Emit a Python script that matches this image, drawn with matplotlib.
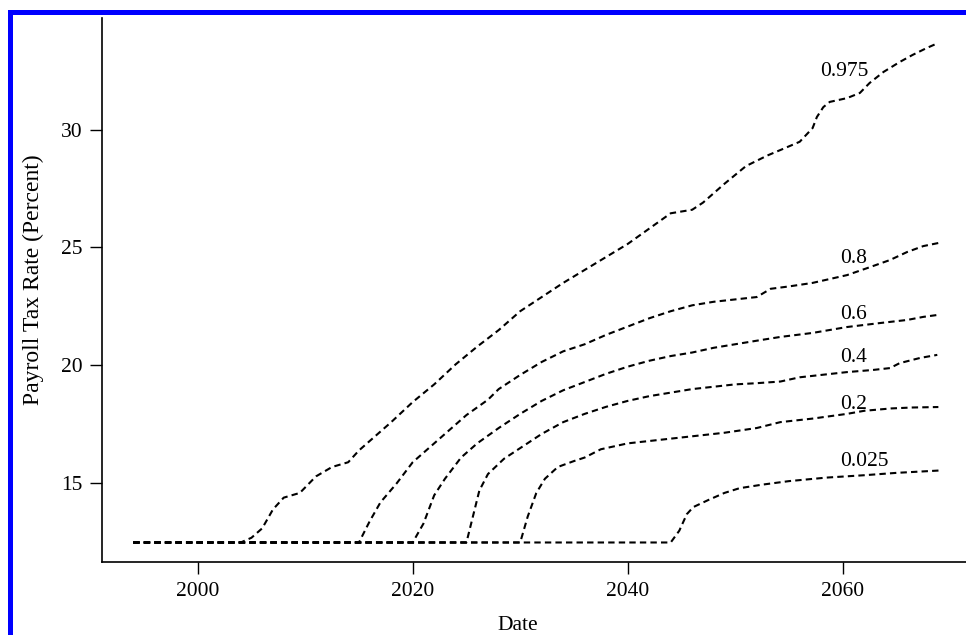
import matplotlib
matplotlib.use("Agg")
import matplotlib.pyplot as plt
from matplotlib.patches import Rectangle

# ---------------- data ----------------
q975_years = [1994, 2004, 2005, 2006, 2007, 2008, 2009.5, 2011, 2012.5, 2014, 2015, 2016.5,
              2018, 2020, 2022, 2024, 2026, 2028, 2030, 2032, 2034, 2036, 2038, 2040, 2042,
              2044, 2046, 2047, 2049, 2051, 2053, 2054.2, 2056, 2057.2, 2057.6, 2058.2,
              2058.8, 2060.4, 2061.6, 2062.5, 2063.8, 2065.3, 2066.5, 2067.8, 2068.9]
q975_vals = [12.5, 12.5, 12.7, 13.1, 13.9, 14.4, 14.6, 15.3, 15.7, 15.9, 16.4, 17.0,
             17.6, 18.45, 19.2, 20.05, 20.8, 21.5, 22.3, 22.9, 23.5, 24.05, 24.6, 25.15, 25.8,
             26.45, 26.6, 26.9, 27.7, 28.45, 28.9, 29.13, 29.48, 30.06, 30.53, 30.95,
             31.17, 31.33, 31.55, 31.97, 32.44, 32.86, 33.16, 33.45, 33.67]

q80_years = [1994, 2015, 2016, 2017, 2018.5, 2020, 2021, 2023, 2025, 2027, 2028, 2030, 2032,
             2034, 2036, 2038, 2040, 2042, 2044, 2046, 2048, 2050, 2052, 2053.3, 2055,
             2057.2, 2060.4, 2062.3, 2064.4, 2066, 2067.5, 2068.9]
q80_vals = [12.5, 12.5, 13.4, 14.2, 15.0, 15.9, 16.3, 17.1, 17.9, 18.55, 19.0, 19.6, 20.15,
            20.6, 20.9, 21.3, 21.65, 22.0, 22.3, 22.55, 22.7, 22.8, 22.9, 23.25, 23.35,
            23.5, 23.83, 24.13, 24.47, 24.81, 25.06, 25.19]

q60_years = [1994, 2020, 2021, 2022, 2023, 2024.5, 2026, 2028, 2030, 2032, 2034, 2036, 2038,
             2040, 2042, 2044, 2046, 2048, 2050, 2052, 2054.2, 2057.2, 2060.4, 2063.5, 2066,
             2067.5, 2068.8]
q60_vals = [12.5, 12.5, 13.3, 14.5, 15.2, 16.1, 16.7, 17.35, 17.95, 18.5, 18.95, 19.3, 19.65,
            19.95, 20.2, 20.4, 20.55, 20.75, 20.9, 21.05, 21.21, 21.38, 21.63, 21.8, 21.93,
            22.06, 22.14]

q40_years = [1994, 2025, 2025.6, 2026.2, 2027, 2028.5, 2030, 2032, 2034, 2036, 2038, 2040,
             2042, 2044, 2046, 2048, 2050, 2052, 2054.2, 2056, 2057.2, 2060.4, 2062.8, 2064.4,
             2065.3, 2067.2, 2068.8]
q40_vals = [12.5, 12.5, 13.6, 14.7, 15.4, 16.05, 16.5, 17.1, 17.6, 17.95, 18.25, 18.5,
            18.7, 18.85, 19.0, 19.1, 19.2, 19.25, 19.32, 19.5, 19.56, 19.72, 19.81, 19.89,
            20.1, 20.32, 20.45]

q20_years = [1994, 2030, 2030.7, 2031.5, 2032.3, 2033.5, 2035, 2036, 2037.5, 2040, 2043, 2046,
             2049, 2052, 2054.2, 2057.2, 2060.4, 2062, 2064.5, 2066.5, 2068.9]
q20_vals = [12.5, 12.5, 13.6, 14.6, 15.2, 15.7, 15.95, 16.1, 16.45, 16.7, 16.85, 17.0,
            17.15, 17.35, 17.6, 17.75, 17.95, 18.08, 18.18, 18.22, 18.24]

q025_years = [1994, 2044, 2044.8, 2045.5, 2046.1, 2047.5, 2049, 2050.4, 2052.5, 2055, 2058.5,
              2062, 2065, 2069]
q025_vals = [12.5, 12.5, 13.0, 13.7, 14.0, 14.3, 14.6, 14.8, 14.95, 15.1, 15.25,
             15.35, 15.45, 15.55]

series = [
    ("0.975", q975_years, q975_vals, (2060.15, 32.44)),
    ("0.8", q80_years, q80_vals, (2061.0, 24.55)),
    ("0.6", q60_years, q60_vals, (2061.0, 22.14)),
    ("0.4", q40_years, q40_vals, (2061.0, 20.32)),
    ("0.2", q20_years, q20_vals, (2061.0, 18.33)),
    ("0.025", q025_years, q025_vals, (2062.0, 15.95)),
]

x_ticks = [2000, 2020, 2040, 2060]
y_ticks = [15, 20, 25, 30]

# ---------------- figure ----------------
plt.rcParams['font.family'] = ['Liberation Serif', 'DejaVu Serif']
plt.rcParams['lines.scale_dashes'] = False

W, H = 966, 635
fig = plt.figure(figsize=(W / 100, H / 100), dpi=100)

ax_l, ax_r, ax_t, ax_b = 101.7, 966, 18, 562
ax = fig.add_axes([ax_l / W, 1 - ax_b / H, (ax_r - ax_l) / W, (ax_b - ax_t) / H])

for name, xs, ys, (lx, ly) in series:
    ax.plot(xs, ys, color='black', lw=1.5, linestyle=(0, (4.6, 3.0)))
    ax.text(lx, ly, name, ha='center', va='center', fontsize=15.5)

ax.set_xlim(1991.07, 2071.47)
ax.set_ylim(11.673, 34.725)
ax.set_xticks(x_ticks)
ax.set_yticks(y_ticks)
ax.tick_params(axis='both', direction='out', length=8.5, width=1.0, labelsize=15.5)
ax.tick_params(axis='x', pad=6)
ax.tick_params(axis='y', pad=5)
for s in ['top', 'right']:
    ax.spines[s].set_visible(False)
for s in ['left', 'bottom']:
    ax.spines[s].set_linewidth(1.2)

ax.set_xlabel('Date', fontsize=15.5)
ax.xaxis.set_label_coords((518 - ax_l) / (ax_r - ax_l), -(625 - ax_b) / (ax_b - ax_t), transform=ax.transAxes)
ax.set_ylabel('Payroll Tax Rate (Percent)', fontsize=17)
ax.yaxis.set_label_coords(-(ax_l - 33) / (ax_r - ax_l), (ax_b - 280) / (ax_b - ax_t), transform=ax.transAxes)
ax.xaxis.label.set_va('center')
ax.yaxis.label.set_va('center')

# blue frame (top and left)
fig.add_artist(Rectangle((8 / W, 1 - 15 / H), (W - 8) / W, 5 / H, transform=fig.transFigure,
                         color='#0000FF', lw=0))
fig.add_artist(Rectangle((8 / W, 0), 5 / W, (H - 10) / H, transform=fig.transFigure,
                         color='#0000FF', lw=0))

fig.savefig('out.png', dpi=100)
